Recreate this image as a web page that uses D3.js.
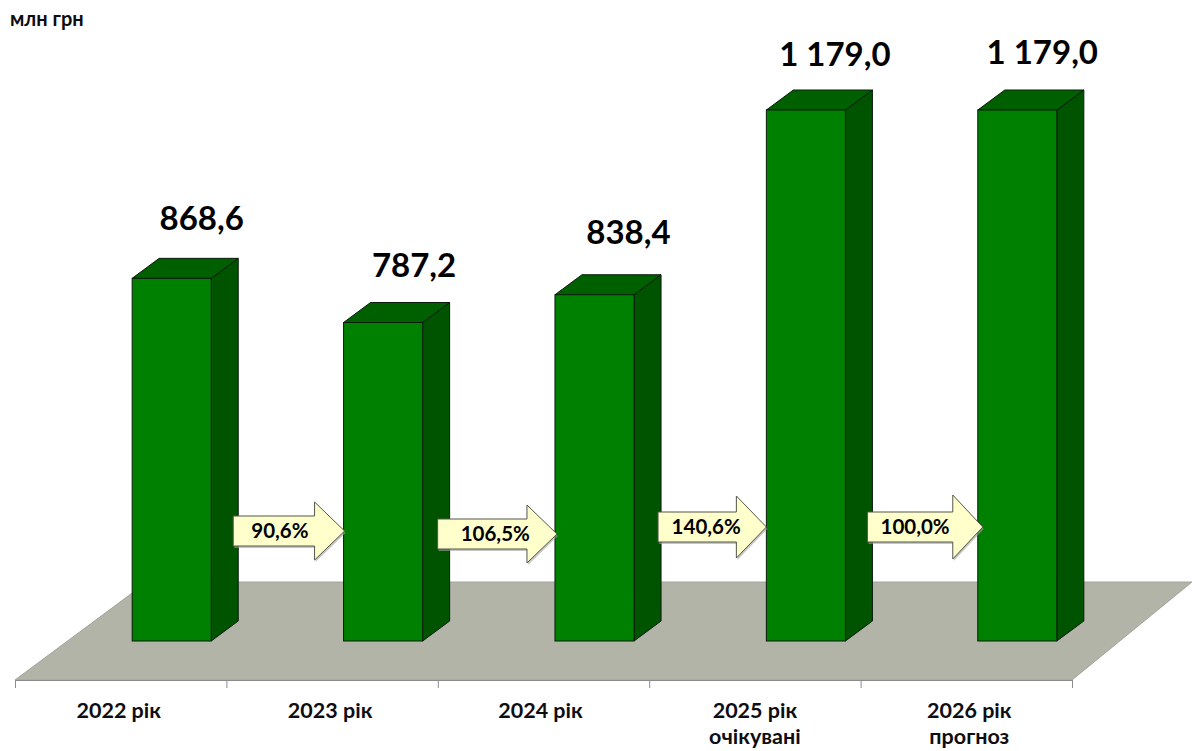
<!DOCTYPE html>
<html lang="uk">
<head>
    <meta charset="UTF-8">
    <title>млн грн</title>
    <script src="https://d3js.org/d3.v7.min.js"></script>
    <style>
        html, body { margin: 0; padding: 0; background: #fff; }
        svg { display: block; }
        text { font-family: Lato, "Open Sans", sans-serif; font-weight: 700; fill: #0d0d12; }
        .value { font-size: 33px; fill: #000; }
        .cat { font-size: 21.5px; }
        .pct { font-size: 20.5px; fill: #000; }
        .unit { font-size: 20px; }
    </style>
</head>
<body>
    <svg width="1192" height="751"></svg>

    <script>
        const categories = ["2022 рік", "2023 рік", "2024 рік", "2025 рік", "2026 рік"];
        const subLabels = ["", "", "", "очікувані", "прогноз"];
        const values = [868.6, 787.2, 838.4, 1179.0, 1179.0];
        const growth = ["90,6%", "106,5%", "140,6%", "100,0%"];

        const svg = d3.select("svg");

        // floor front edge and the way the "3d" depth is faked
        const floorLeft = 15, floorRight = 1072, floorFront = 680, floorBack = 582;
        const baseY = 641, barDx = 27, barDy = 20, planeDx = 51;

        const x = d3.scaleBand().domain(categories)
            .range([floorLeft, floorRight])
            .paddingInner(0.626).paddingOuter(0.313);
        const xEdge = d3.scaleLinear().domain([0, categories.length]).range([floorLeft, floorRight]);
        const y = d3.scaleLinear().domain([200, 1179]).range([baseY, 110]);

        const fmt = d3.formatLocale({decimal: ",", thousands: " ", grouping: [3], currency: ["", ""]}).format(",.1f");

        // floor
        svg.append("path")
            .attr("d", d3.line()([
                [floorLeft, floorFront], [147, floorBack], [1192, floorBack], [floorRight, floorFront]
            ]) + "Z")
            .attr("fill", "#b2b4a8")
            .attr("stroke", "#a2a49a")
            .attr("stroke-width", 1);

        // category axis, ticks sit on the band edges
        const axis = svg.append("g")
            .attr("transform", "translate(0," + floorFront + ")")
            .call(d3.axisBottom(xEdge).ticks(categories.length).tickSize(8).tickFormat(""));
        axis.select(".domain").attr("stroke", "#8c8c8c");
        axis.selectAll("line").attr("stroke", "#8c8c8c");

        const bars = svg.selectAll("g.bar").data(categories).enter().append("g").attr("class", "bar");
        const edge = "#0a1c0c";

        bars.append("path")
            .attr("d", function (d, i) {
                const x0 = x(d) + planeDx, x1 = x0 + x.bandwidth(), t = y(values[i]);
                return d3.line()([[x1, baseY], [x1 + barDx, baseY - barDy], [x1 + barDx, t - barDy], [x1, t]]) + "Z";
            })
            .attr("fill", "#005400").attr("stroke", edge);

        bars.append("path")
            .attr("d", function (d, i) {
                const x0 = x(d) + planeDx, x1 = x0 + x.bandwidth(), t = y(values[i]);
                return d3.line()([[x0, t], [x0 + barDx, t - barDy], [x1 + barDx, t - barDy], [x1, t]]) + "Z";
            })
            .attr("fill", "#006000").attr("stroke", edge);

        bars.append("rect")
            .attr("x", function (d) { return x(d) + planeDx; })
            .attr("y", function (d, i) { return y(values[i]); })
            .attr("width", x.bandwidth())
            .attr("height", function (d, i) { return baseY - y(values[i]); })
            .attr("fill", "#008000").attr("stroke", edge);

        // labels were nudged by hand in the original
        const labelNudge = [[0, 2], [1, 0], [4, 5], [-1, -2], [-5, 0]];
        bars.append("text")
            .attr("class", "value")
            .attr("text-anchor", "middle")
            .attr("x", function (d, i) { return x(d) + planeDx + x.bandwidth() / 2 + 30 + labelNudge[i][0]; })
            .attr("y", function (d, i) { return y(values[i]) - 46 - labelNudge[i][1]; })
            .text(function (d, i) { return fmt(values[i]); });

        const catNudge = [-2, -2, -3, 0, 3];
        bars.append("text")
            .attr("class", "cat")
            .attr("text-anchor", "middle")
            .attr("x", function (d, i) { return x(d) + x.bandwidth() / 2 + catNudge[i]; })
            .attr("y", 718)
            .text(function (d) { return d; });

        // second line, kept just high enough for the descender to stay on the page
        bars.append("text")
            .attr("class", "cat")
            .attr("text-anchor", "middle")
            .attr("x", function (d, i) { return x(d) + x.bandwidth() / 2 + catNudge[i]; })
            .attr("y", 744)
            .text(function (d, i) { return subLabels[i]; });

        // growth arrows between neighbouring bars
        const arrowStart = [22, 15, 24, 22], arrowEnd = [1, 2, 0, 5], arrowMid = [531, 534, 527, 527];
        const headHeights = [29, 29, 31, 32], pctNudge = [1, 8, 4, 0];
        const bodyH = 15, headW = 30;
        const arrows = svg.selectAll("g.arrow").data(growth).enter().append("g").attr("class", "arrow");

        function arrowPoints(i) {
            const x0 = x(categories[i]) + planeDx + x.bandwidth() + arrowStart[i];
            const x1 = x(categories[i + 1]) + planeDx + arrowEnd[i];
            const m = arrowMid[i], headH = headHeights[i];
            return [[x0, m - bodyH], [x1 - headW, m - bodyH], [x1 - headW, m - headH], [x1, m],
                [x1 - headW, m + headH], [x1 - headW, m + bodyH], [x0, m + bodyH]];
        }

        arrows.append("path")
            .attr("d", function (d, i) { return d3.line()(arrowPoints(i)) + "Z"; })
            .attr("transform", "translate(1,2)")
            .attr("fill", "#a0a0a0").attr("opacity", 0.6);

        arrows.append("path")
            .attr("d", function (d, i) { return d3.line()(arrowPoints(i)) + "Z"; })
            .attr("fill", "#ffffcc").attr("stroke", "#55554a");

        arrows.append("text")
            .attr("class", "pct")
            .attr("text-anchor", "middle")
            .attr("x", function (d, i) { return (arrowPoints(i)[0][0] + arrowPoints(i)[1][0]) / 2 + 5 + pctNudge[i]; })
            .attr("y", function (d, i) { return arrowMid[i] + 7; })
            .text(function (d) { return d; });

        svg.append("text").attr("class", "unit").attr("x", 10).attr("y", 26).text("млн грн");
    </script>
</body>
</html>
